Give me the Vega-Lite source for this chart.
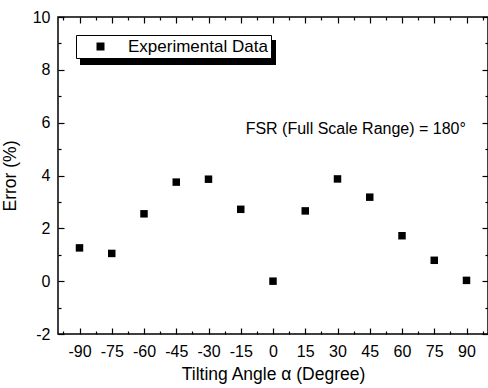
{
  "$schema": "https://vega.github.io/schema/vega-lite/v6.json",
  "width": 430,
  "height": 317,
  "autosize": "none",
  "padding": {"left": 58, "top": 17, "right": 0, "bottom": 54},
  "config": {
    "font": "Liberation Sans",
    "view": {"stroke": "black", "strokeWidth": 1.5},
    "axis": {"zindex": 1, "labelFont": "Liberation Sans", "titleFont": "Liberation Sans", "labelFontSize": 16, "titleFontSize": 17.5, "titleFontWeight": "normal", "labelColor": "black", "titleColor": "black", "domain": false, "grid": false, "tickColor": "black", "tickWidth": 1.2, "tickOpacity": 1, "labelOverlap": false, "labelFlush": false}
  },
  "datasets": {
    "pts": [
      {"angle": -90, "error": 1.26, "series": "Experimental Data"},
      {"angle": -75, "error": 1.05, "series": "Experimental Data"},
      {"angle": -60, "error": 2.55, "series": "Experimental Data"},
      {"angle": -45, "error": 3.75, "series": "Experimental Data"},
      {"angle": -30, "error": 3.86, "series": "Experimental Data"},
      {"angle": -15, "error": 2.72, "series": "Experimental Data"},
      {"angle": 0, "error": 0.0, "series": "Experimental Data"},
      {"angle": 15, "error": 2.66, "series": "Experimental Data"},
      {"angle": 30, "error": 3.87, "series": "Experimental Data"},
      {"angle": 45, "error": 3.18, "series": "Experimental Data"},
      {"angle": 60, "error": 1.72, "series": "Experimental Data"},
      {"angle": 75, "error": 0.79, "series": "Experimental Data"},
      {"angle": 90, "error": 0.03, "series": "Experimental Data"}
    ]
  },
  "layer": [
    {
      "data": {"values": [{"shadow": "Experimental Data"}]},
      "mark": {"type": "point", "shape": "square", "fillOpacity": 0, "strokeOpacity": 0},
      "encoding": {
        "fill": {"field": "shadow", "type": "nominal", "scale": {"range": ["black"]}, "legend": {"title": null, "orient": "none", "legendX": 22, "legendY": -62.5, "zindex": 1, "padding": 0, "symbolType": "M-1,-0.1276H1V0.1276H-1Z", "symbolSize": 38416, "symbolStrokeWidth": 0, "symbolOpacity": 1, "labelFontSize": 1, "labelExpr": "''", "labelOffset": 0, "symbolOffset": 0}}
      }
    },
    {
      "data": {"name": "pts"},
      "mark": {"type": "point", "shape": "square", "filled": true, "size": 56, "opacity": 1},
      "encoding": {
        "x": {"field": "angle", "type": "quantitative", "scale": {"domain": [-100, 100], "nice": false}, "axis": {"orient": "bottom", "values": [-97.5,-90,-82.5,-75,-67.5,-60,-52.5,-45,-37.5,-30,-22.5,-15,-7.5,0,7.5,15,22.5,30,37.5,45,52.5,60,67.5,75,82.5,90,97.5], "tickSize": {"condition": {"test": "datum.value % 15 === 0", "value": -6}, "value": -3}, "labelPadding": 15, "labelExpr": "datum.value % 15 === 0 ? '' + datum.value : ''", "title": "Tilting Angle α (Degree)", "titlePadding": 3}},
        "y": {"field": "error", "type": "quantitative", "scale": {"domain": [-2, 10], "nice": false}, "axis": {"orient": "left", "values": [-2,-1,0,1,2,3,4,5,6,7,8,9,10], "tickSize": {"condition": {"test": "datum.value % 2 === 0", "value": -6}, "value": -3}, "labelPadding": 14, "labelExpr": "datum.value % 2 === 0 ? '' + datum.value : ''", "title": "Error (%)", "titlePadding": 13}},
        "color": {"field": "series", "type": "nominal", "scale": {"range": ["black"]}, "legend": {"title": null, "orient": "none", "legendX": 18, "legendY": 18, "zindex": 2, "strokeColor": "black", "fillColor": "white", "padding": 3, "symbolType": "square", "symbolSize": 64, "labelFontSize": 17, "labelFont": "Liberation Sans", "labelColor": "black", "labelOffset": 19, "symbolOffset": 13}}
      }
    },
    {
      "data": {"name": "pts"},
      "mark": {"type": "point", "opacity": 0},
      "encoding": {
        "x": {"field": "angle", "type": "quantitative", "axis": {"orient": "top", "values": [-97.5,-90,-82.5,-75,-67.5,-60,-52.5,-45,-37.5,-30,-22.5,-15,-7.5,0,7.5,15,22.5,30,37.5,45,52.5,60,67.5,75,82.5,90,97.5], "tickSize": {"condition": {"test": "datum.value % 15 === 0", "value": -6}, "value": -3}, "labels": false, "title": null}},
        "y": {"field": "error", "type": "quantitative", "axis": {"orient": "right", "values": [-2,-1,0,1,2,3,4,5,6,7,8,9,10], "tickSize": {"condition": {"test": "datum.value % 2 === 0", "value": -6}, "value": -3}, "labels": false, "title": null}}
      }
    },
    {
      "data": {"values": [{"label": "FSR (Full Scale Range) = 180°"}]},
      "mark": {"type": "text", "fontSize": 16, "font": "Liberation Sans", "color": "black", "align": "center", "baseline": "middle"},
      "encoding": {
        "x": {"datum": 38.5, "type": "quantitative", "axis": null},
        "y": {"datum": 5.75, "type": "quantitative", "axis": null},
        "text": {"field": "label"}
      }
    }
  ],
  "resolve": {"axis": {"x": "independent", "y": "independent"}}
}
